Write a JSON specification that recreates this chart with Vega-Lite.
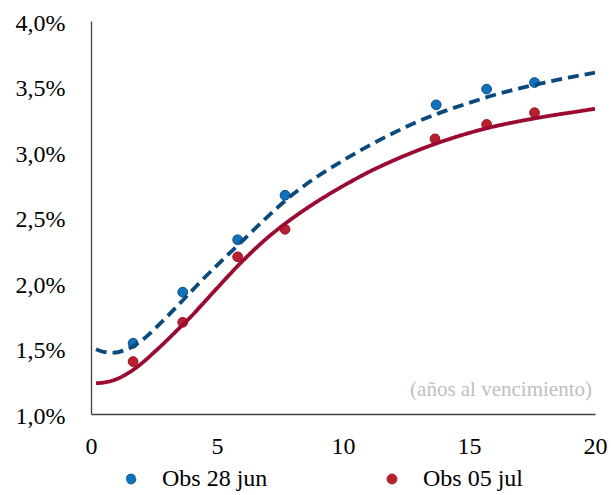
{
  "$schema": "https://vega.github.io/schema/vega-lite/v6.json",
  "autosize": {"type": "none"},
  "width": 504,
  "height": 393,
  "padding": {"left": 91, "top": 21, "right": 16, "bottom": 81},
  "background": "white",
  "config": {
    "view": {"stroke": null},
    "font": "Liberation Serif",
    "axis": {
      "grid": false,
      "ticks": false,
      "domainColor": "#404040",
      "domainWidth": 1.3,
      "labelFont": "Liberation Serif",
      "labelFontSize": 24,
      "labelColor": "#000000",
      "title": null
    }
  },
  "datasets": {
    "obs": [
      {"plazo": 1.67, "tasa": 1.54, "serie": "Obs 28 jun"},
      {"plazo": 3.64, "tasa": 1.93, "serie": "Obs 28 jun"},
      {"plazo": 5.82, "tasa": 2.33, "serie": "Obs 28 jun"},
      {"plazo": 7.7, "tasa": 2.67, "serie": "Obs 28 jun"},
      {"plazo": 13.7, "tasa": 3.36, "serie": "Obs 28 jun"},
      {"plazo": 15.7, "tasa": 3.48, "serie": "Obs 28 jun"},
      {"plazo": 17.6, "tasa": 3.53, "serie": "Obs 28 jun"},
      {"plazo": 1.67, "tasa": 1.40, "serie": "Obs 05 jul"},
      {"plazo": 3.64, "tasa": 1.70, "serie": "Obs 05 jul"},
      {"plazo": 5.82, "tasa": 2.20, "serie": "Obs 05 jul"},
      {"plazo": 7.7, "tasa": 2.41, "serie": "Obs 05 jul"},
      {"plazo": 13.65, "tasa": 3.10, "serie": "Obs 05 jul"},
      {"plazo": 15.7, "tasa": 3.21, "serie": "Obs 05 jul"},
      {"plazo": 17.6, "tasa": 3.30, "serie": "Obs 05 jul"}
    ],
    "curva": [
      {"plazo": 0.2, "tasa": 1.495, "serie": "Obs 28 jun"},
      {"plazo": 0.5, "tasa": 1.475, "serie": "Obs 28 jun"},
      {"plazo": 0.9, "tasa": 1.468, "serie": "Obs 28 jun"},
      {"plazo": 1.3, "tasa": 1.485, "serie": "Obs 28 jun"},
      {"plazo": 1.7, "tasa": 1.52, "serie": "Obs 28 jun"},
      {"plazo": 2.1, "tasa": 1.575, "serie": "Obs 28 jun"},
      {"plazo": 2.5, "tasa": 1.645, "serie": "Obs 28 jun"},
      {"plazo": 3, "tasa": 1.74, "serie": "Obs 28 jun"},
      {"plazo": 3.5, "tasa": 1.84, "serie": "Obs 28 jun"},
      {"plazo": 4, "tasa": 1.94, "serie": "Obs 28 jun"},
      {"plazo": 4.5, "tasa": 2.04, "serie": "Obs 28 jun"},
      {"plazo": 5, "tasa": 2.135, "serie": "Obs 28 jun"},
      {"plazo": 6, "tasa": 2.32, "serie": "Obs 28 jun"},
      {"plazo": 7, "tasa": 2.505, "serie": "Obs 28 jun"},
      {"plazo": 8, "tasa": 2.675, "serie": "Obs 28 jun"},
      {"plazo": 9, "tasa": 2.815, "serie": "Obs 28 jun"},
      {"plazo": 10, "tasa": 2.935, "serie": "Obs 28 jun"},
      {"plazo": 11, "tasa": 3.045, "serie": "Obs 28 jun"},
      {"plazo": 12, "tasa": 3.145, "serie": "Obs 28 jun"},
      {"plazo": 13, "tasa": 3.235, "serie": "Obs 28 jun"},
      {"plazo": 14, "tasa": 3.31, "serie": "Obs 28 jun"},
      {"plazo": 15, "tasa": 3.375, "serie": "Obs 28 jun"},
      {"plazo": 16, "tasa": 3.435, "serie": "Obs 28 jun"},
      {"plazo": 17, "tasa": 3.485, "serie": "Obs 28 jun"},
      {"plazo": 18, "tasa": 3.53, "serie": "Obs 28 jun"},
      {"plazo": 19, "tasa": 3.57, "serie": "Obs 28 jun"},
      {"plazo": 20, "tasa": 3.605, "serie": "Obs 28 jun"},
      {"plazo": 0.2, "tasa": 1.235, "serie": "Obs 05 jul"},
      {"plazo": 0.5, "tasa": 1.24, "serie": "Obs 05 jul"},
      {"plazo": 1, "tasa": 1.265, "serie": "Obs 05 jul"},
      {"plazo": 1.5, "tasa": 1.315, "serie": "Obs 05 jul"},
      {"plazo": 2, "tasa": 1.385, "serie": "Obs 05 jul"},
      {"plazo": 2.5, "tasa": 1.47, "serie": "Obs 05 jul"},
      {"plazo": 3, "tasa": 1.56, "serie": "Obs 05 jul"},
      {"plazo": 3.5, "tasa": 1.655, "serie": "Obs 05 jul"},
      {"plazo": 4, "tasa": 1.75, "serie": "Obs 05 jul"},
      {"plazo": 4.5, "tasa": 1.855, "serie": "Obs 05 jul"},
      {"plazo": 5, "tasa": 1.96, "serie": "Obs 05 jul"},
      {"plazo": 6, "tasa": 2.165, "serie": "Obs 05 jul"},
      {"plazo": 7, "tasa": 2.345, "serie": "Obs 05 jul"},
      {"plazo": 8, "tasa": 2.495, "serie": "Obs 05 jul"},
      {"plazo": 9, "tasa": 2.625, "serie": "Obs 05 jul"},
      {"plazo": 10, "tasa": 2.74, "serie": "Obs 05 jul"},
      {"plazo": 11, "tasa": 2.845, "serie": "Obs 05 jul"},
      {"plazo": 12, "tasa": 2.935, "serie": "Obs 05 jul"},
      {"plazo": 13, "tasa": 3.015, "serie": "Obs 05 jul"},
      {"plazo": 14, "tasa": 3.085, "serie": "Obs 05 jul"},
      {"plazo": 15, "tasa": 3.145, "serie": "Obs 05 jul"},
      {"plazo": 16, "tasa": 3.195, "serie": "Obs 05 jul"},
      {"plazo": 17, "tasa": 3.235, "serie": "Obs 05 jul"},
      {"plazo": 18, "tasa": 3.27, "serie": "Obs 05 jul"},
      {"plazo": 19, "tasa": 3.30, "serie": "Obs 05 jul"},
      {"plazo": 20, "tasa": 3.33, "serie": "Obs 05 jul"}
    ],
    "nota": [
      {"plazo": 20, "tasa": 1.18, "texto": "(años al vencimiento)"}
    ]
  },
  "layer": [
    {
      "data": {"name": "obs"},
      "mark": {"type": "point", "filled": true, "opacity": 1, "size": 95, "strokeWidth": 1},
      "encoding": {
        "x": {
          "field": "plazo",
          "type": "quantitative",
          "scale": {"domain": [0, 20], "nice": false, "zero": false},
          "axis": {"values": [0, 5, 10, 15, 20], "labelPadding": 20, "labelFlush": false}
        },
        "y": {
          "field": "tasa",
          "type": "quantitative",
          "scale": {"domain": [1, 4], "nice": false, "zero": false},
          "axis": {
            "values": [1, 1.5, 2, 2.5, 3, 3.5, 4],
            "labelPadding": 26,
            "labelOffset": 2,
            "labelExpr": "replace(format(datum.value, '.1f'), '.', ',') + '%'"
          }
        },
        "fill": {
          "field": "serie",
          "type": "nominal",
          "scale": {"domain": ["Obs 28 jun", "Obs 05 jul"], "range": ["#0f72bd", "#b8232b"]},
          "legend": {
            "title": null,
            "orient": "none",
            "direction": "horizontal",
            "legendX": 28,
            "legendY": 446,
            "padding": 0,
            "labelFont": "Liberation Serif",
            "labelFontSize": 24,
            "labelColor": "#000000",
            "labelOffset": 19,
            "columnPadding": 112,
            "symbolSize": 100,
            "symbolType": "circle",
            "symbolStrokeWidth": 0.8
          }
        },
        "stroke": {
          "field": "serie",
          "type": "nominal",
          "scale": {"domain": ["Obs 28 jun", "Obs 05 jul"], "range": ["#0b4a7f", "#9b0a30"]},
          "legend": null
        }
      }
    },
    {
      "data": {"name": "curva"},
      "mark": {"type": "line", "interpolate": "monotone", "strokeWidth": 3.8},
      "encoding": {
        "x": {"field": "plazo", "type": "quantitative"},
        "y": {"field": "tasa", "type": "quantitative"},
        "stroke": {"field": "serie", "type": "nominal", "legend": null},
        "strokeDash": {
          "field": "serie",
          "type": "nominal",
          "scale": {"domain": ["Obs 28 jun", "Obs 05 jul"], "range": [[11, 6], [1, 0]]},
          "legend": null
        }
      }
    },
    {
      "data": {"name": "nota"},
      "mark": {
        "type": "text",
        "align": "right",
        "baseline": "middle",
        "dx": -3,
        "font": "Liberation Serif",
        "fontSize": 21,
        "fill": "#bfbfbf"
      },
      "encoding": {
        "x": {"field": "plazo", "type": "quantitative"},
        "y": {"field": "tasa", "type": "quantitative"},
        "text": {"field": "texto", "type": "nominal"}
      }
    }
  ]
}
